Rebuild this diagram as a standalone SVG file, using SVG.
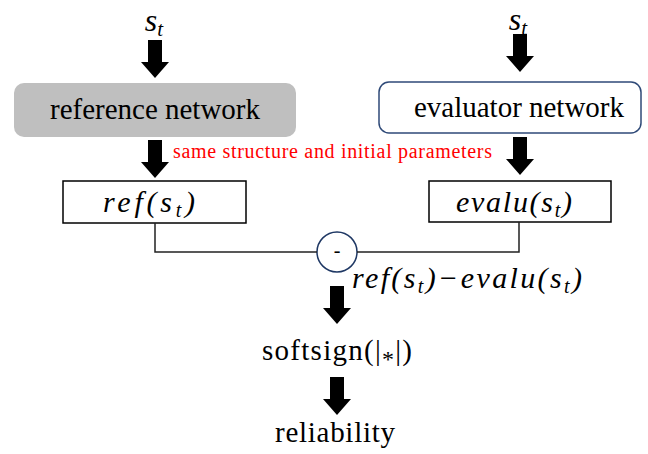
<svg xmlns="http://www.w3.org/2000/svg" width="648" height="454" viewBox="0 0 648 454">
  <style>
    .box { fill: #fff; stroke: #000; stroke-width: 1.5; }
    .wire { fill: none; stroke: #222; stroke-width: 1.5; }
  </style>
  <defs>
    <!-- block arrow pointing down, tip at (0,0) -->
    <path id="blk" fill="#000" d="M -7 -38 L 7 -38 L 7 -16 L 14 -16 L 0 0 L -14 -16 L -7 -16 Z"/>
  </defs>

  <!-- inputs -->
  <g id="input-left">
    <text x="154" y="31" font-family="Liberation Serif, serif" font-style="italic" font-size="32" text-anchor="middle">s<tspan font-size="21" dy="5">t</tspan></text>
  </g>
  <g id="input-right">
    <text x="518" y="30" font-family="Liberation Serif, serif" font-style="italic" font-size="32" text-anchor="middle">s<tspan font-size="21" dy="5">t</tspan></text>
  </g>

  <g id="reference-network">
    <rect x="14" y="83" width="282" height="54" rx="10" fill="#bfbfbf"/>
    <text x="155" y="119" font-family="Liberation Serif, serif" font-size="29" text-anchor="middle" textLength="210">reference network</text>
  </g>

  <g id="evaluator-network">
    <rect x="379" y="82" width="262" height="51" rx="10" fill="#fff" stroke="#2f4a78" stroke-width="1.5"/>
    <text x="519" y="117" font-family="Liberation Serif, serif" font-size="29" text-anchor="middle" textLength="210">evaluator network</text>
  </g>

  <g id="note">
    <text x="173" y="158" font-family="Liberation Serif, serif" font-size="20" fill="#ff0000" textLength="319">same structure and initial parameters</text>
  </g>

  <g id="ref-output">
    <rect class="box" x="63" y="181" width="183" height="42"/>
    <text x="103" y="212" font-family="Liberation Serif, serif" font-size="30" font-style="italic" textLength="92">ref(s<tspan font-size="20" dy="5">t</tspan><tspan dy="-5">)</tspan></text>
  </g>

  <g id="evalu-output">
    <rect class="box" x="429" y="181" width="182" height="41"/>
    <text x="456" y="212" font-family="Liberation Serif, serif" font-size="30" font-style="italic" textLength="116">evalu(s<tspan font-size="20" dy="5">t</tspan><tspan dy="-5">)</tspan></text>
  </g>

  <g id="subtract">
    <circle cx="337" cy="252" r="20" fill="#fff" stroke="#1f3864" stroke-width="1.5"/>
    <text x="337" y="257" font-family="Liberation Serif, serif" font-size="20" text-anchor="middle">-</text>
  </g>

  <g id="difference-label">
    <text x="352" y="288" font-family="Liberation Serif, serif" font-size="30" font-style="italic" textLength="230">ref(s<tspan font-size="20" dy="5">t</tspan><tspan dy="-5">)−evalu(s</tspan><tspan font-size="20" dy="5">t</tspan><tspan dy="-5">)</tspan></text>
  </g>

  <g id="softsign">
    <text x="262" y="360" font-family="Liberation Serif, serif" font-size="29" textLength="150">softsign(|<tspan font-size="24" dy="7">*</tspan><tspan dy="-7">|)</tspan></text>
  </g>

  <g id="reliability">
    <text x="275" y="442" font-family="Liberation Serif, serif" font-size="29" textLength="120">reliability</text>
  </g>

  <g id="connectors">
    <use href="#blk" x="155" y="78"/>
    <use href="#blk" x="520" y="72"/>
    <use href="#blk" x="155" y="178"/>
    <use href="#blk" x="520" y="175"/>
    <path class="wire" d="M 155 223 V 252 H 317"/>
    <path class="wire" d="M 519 222 V 252 H 357"/>
    <use href="#blk" x="337" y="324"/>
    <use href="#blk" x="337" y="415"/>
  </g>
</svg>
